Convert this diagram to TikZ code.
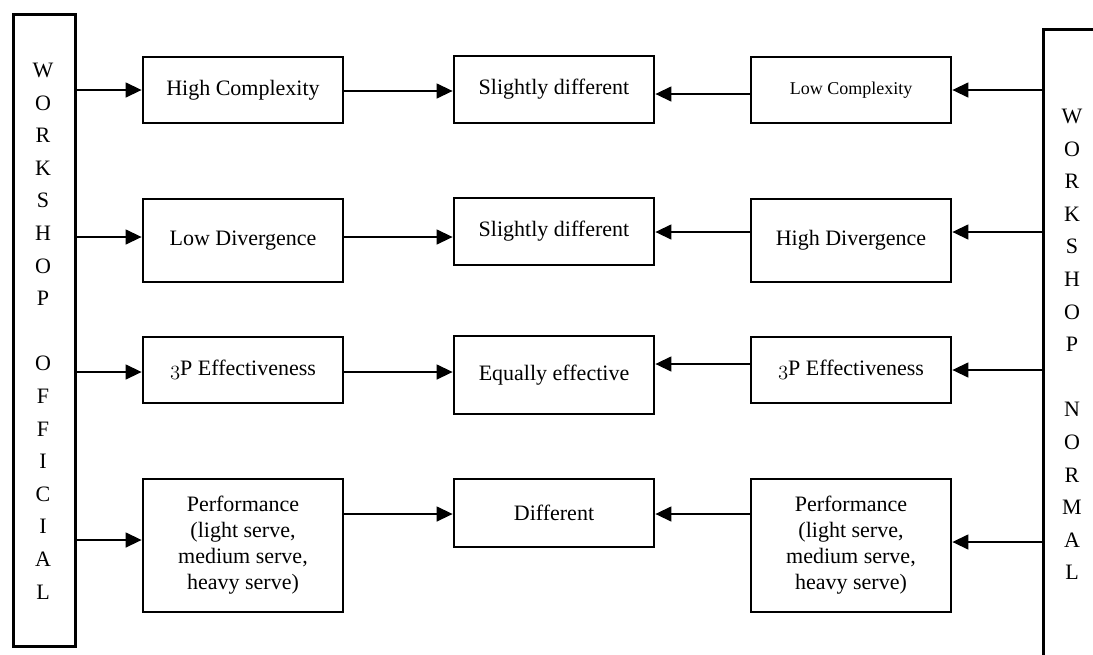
\documentclass[tikz,border=0pt]{standalone}
\usepackage{fontspec}
\setmainfont{Liberation Serif}
\usetikzlibrary{arrows.meta}
\newcommand{\osthree}{{\usefont{OML}{lmm}{m}{it}3}}
\begin{document}
\begin{tikzpicture}[x=1pt,y=-1pt,
  box/.style={draw, line width=2.8pt, inner sep=0pt, align=center,
    font=\fontsize{22}{26}\selectfont},
  tall/.style={draw, line width=2.8pt, inner sep=0pt, anchor=north west},
  letters/.style={align=center, inner sep=0pt, font=\fontsize{22}{32.6}\selectfont},
  arr/.style={line width=1.4pt, -{Triangle[length=16pt,width=15pt]}}]
\path[use as bounding box, clip] (0,0) rectangle (1093,654);

% tall side boxes
\node[tall, minimum width=62pt, minimum height=632pt] (lb) at (12,13) {};
\node[letters] (lt) at (43,331) {W\\O\\R\\K\\S\\H\\O\\P\\~\\O\\F\\F\\I\\C\\I\\A\\L};
\node[tall, minimum width=80pt, minimum height=660pt] (rb) at (1042,28) {};
\node[letters] (rt) at (1072,344.5) {W\\O\\R\\K\\S\\H\\O\\P\\~\\N\\O\\R\\M\\A\\L};

% row 1
\node[box, minimum width=200pt, minimum height=66pt] (hc) at (243,90) {High Complexity};
\node[box, minimum width=200pt, minimum height=67pt] (sd1) at (554,89.5) {Slightly different};
\node[box, minimum width=200pt, minimum height=66pt, font=\fontsize{18}{22}\selectfont] (lc) at (851,90) {Low Complexity};
% row 2
\node[box, minimum width=200pt, minimum height=83pt] (ld) at (243,240.5) {Low Divergence};
\node[box, minimum width=200pt, minimum height=67pt] (sd2) at (554,231.5) {Slightly different};
\node[box, minimum width=200pt, minimum height=83pt] (hd) at (851,240.5) {High Divergence};
% row 3
\node[box, minimum width=200pt, minimum height=66pt] (pl) at (243,370) {\osthree P Effectiveness};
\node[box, minimum width=200pt, minimum height=78pt] (ee) at (554,375) {Equally effective};
\node[box, minimum width=200pt, minimum height=66pt] (pr) at (851,370) {\osthree P Effectiveness};
% row 4
\node[box, minimum width=200pt, minimum height=133pt] (fl) at (243,545.5) {Performance\\(light serve,\\medium serve,\\heavy serve)};
\node[box, minimum width=200pt, minimum height=68pt] (df) at (554,513) {Different};
\node[box, minimum width=200pt, minimum height=133pt] (fr) at (851,545.5) {Performance\\(light serve,\\medium serve,\\heavy serve)};

% connectors row 1
\draw[arr] (lb.east |- 0,90) -- (hc.west |- 0,90);
\draw[arr] (hc.east |- 0,91) -- (sd1.west |- 0,91);
\draw[arr] (lc.west |- 0,94) -- (sd1.east |- 0,94);
\draw[arr] (rb.west |- 0,90) -- (lc.east |- 0,90);
% row 2
\draw[arr] (lb.east |- 0,237) -- (ld.west |- 0,237);
\draw[arr] (ld.east |- 0,237) -- (sd2.west |- 0,237);
\draw[arr] (hd.west |- 0,232) -- (sd2.east |- 0,232);
\draw[arr] (rb.west |- 0,232) -- (hd.east |- 0,232);
% row 3
\draw[arr] (lb.east |- 0,372) -- (pl.west |- 0,372);
\draw[arr] (pl.east |- 0,372) -- (ee.west |- 0,372);
\draw[arr] (pr.west |- 0,364) -- (ee.east |- 0,364);
\draw[arr] (rb.west |- 0,370) -- (pr.east |- 0,370);
% row 4
\draw[arr] (lb.east |- 0,540) -- (fl.west |- 0,540);
\draw[arr] (fl.east |- 0,514) -- (df.west |- 0,514);
\draw[arr] (fr.west |- 0,514) -- (df.east |- 0,514);
\draw[arr] (rb.west |- 0,542) -- (fr.east |- 0,542);
\end{tikzpicture}
\end{document}
